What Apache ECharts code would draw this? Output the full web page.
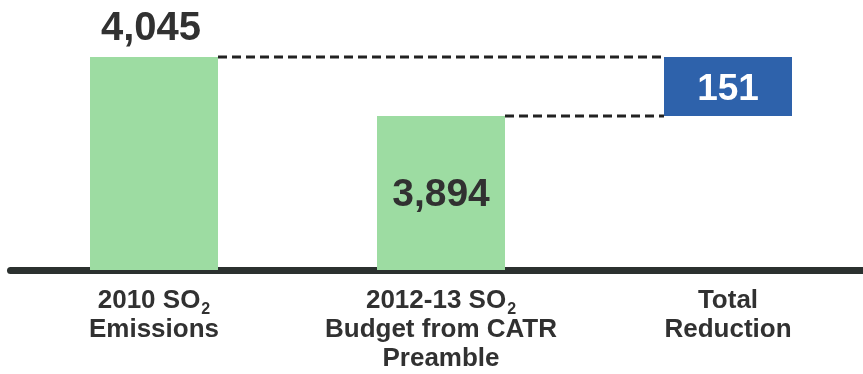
<!DOCTYPE html>
<html>
<head>
<meta charset="utf-8">
<script src="https://cdn.jsdelivr.net/npm/echarts@6/dist/echarts.min.js"></script>
<style>
  html, body { margin: 0; padding: 0; background: #fff; overflow: hidden; width: 863px; height: 374px; }
  /* the baseline runs off the right edge of the page */
  #chart { width: 872px; height: 374px; }
</style>
</head>
<body>
<div id="chart"></div>
<script>
// SO2 emissions vs. budget, with the reduction shown as a floating bar
const categories = ['2010 SO2\nEmissions', '2012-13 SO2\nBudget from CATR\nPreamble', 'Total\nReduction'];
const emissions = [4045, 3894, null];      // green bars
const reductionBase = [null, null, 3894]; // invisible offset under the reduction bar
const reduction = [null, null, 151];      // blue floating bar
const connectors = [[0, 4045], [1, 3894]]; // dashed guides: [category index, level]

const BAR_W = 128;
const TEXT = '#313131';
const FONT = '"Liberation Sans", Arial, sans-serif';

const chart = echarts.init(document.getElementById('chart'), null, { renderer: 'canvas' });

const numberLabel = p => p.value.toLocaleString('en-US');

chart.setOption({
  animation: false,
  backgroundColor: '#ffffff',
  grid: { left: 10.5, right: 0.5, top: 16, bottom: 104 },
  xAxis: {
    type: 'category',
    data: categories,
    boundaryGap: true,
    axisLine: { show: true, lineStyle: { color: '#2b312f', width: 7 } },
    axisTick: { show: false },
    splitLine: { show: false },
    axisLabel: {
      interval: 0,
      margin: 16,
      color: TEXT,
      fontFamily: FONT,
      fontWeight: 'bold',
      fontSize: 26,
      lineHeight: 29,
      formatter: v => v.replace('SO2', 'SO{sub|2}'),
      rich: {
        sub: {
          fontFamily: FONT, fontWeight: 'bold', fontSize: 16, color: TEXT,
          lineHeight: 29, padding: [18, 0, 0, 1]
        }
      }
    }
  },
  yAxis: {
    type: 'value',
    min: 3500,
    max: 4150,
    show: false,
    splitLine: { show: false }
  },
  series: [
    {
      name: 'Emissions',
      type: 'bar',
      stack: 'w',
      barWidth: BAR_W,
      data: emissions.map((v, i) => v == null ? '-' : {
        value: v,
        // first bar carries its value above, second one inside
        label: i === 0
          ? { position: 'top', distance: 8, offset: [-3, 0], fontSize: 40 }
          : { position: 'inside', offset: [0, 2] }
      }),
      itemStyle: { color: '#9ddca2' },
      label: {
        show: true,
        fontFamily: FONT,
        fontWeight: 'bold',
        fontSize: 39,
        color: TEXT,
        formatter: numberLabel
      }
    },
    {
      name: 'Base',
      type: 'bar',
      stack: 'w',
      barWidth: BAR_W,
      data: reductionBase,
      itemStyle: { color: 'rgba(0,0,0,0)' },
      silent: true
    },
    {
      name: 'Reduction',
      type: 'bar',
      stack: 'w',
      barWidth: BAR_W + 1,
      data: reduction,
      itemStyle: { color: '#2e62ab' },
      label: {
        show: true,
        position: 'inside',
        offset: [0, 3],
        fontFamily: FONT,
        fontWeight: 'bold',
        fontSize: 37,
        color: '#ffffff',
        formatter: numberLabel
      }
    },
    {
      name: 'Guides',
      type: 'custom',
      data: connectors,
      silent: true,
      z: 5,
      renderItem: (params, api) => {
        const idx = api.value(0);
        const lvl = api.value(1);
        const start = api.coord([idx, lvl]);
        const end = api.coord([categories.length - 1, lvl]);
        return {
          type: 'line',
          shape: { x1: start[0] + BAR_W / 2, y1: start[1], x2: end[0] - BAR_W / 2, y2: end[1] },
          style: { stroke: '#222222', lineWidth: 3, lineDash: [9, 5] }
        };
      }
    }
  ]
});
</script>
</body>
</html>
